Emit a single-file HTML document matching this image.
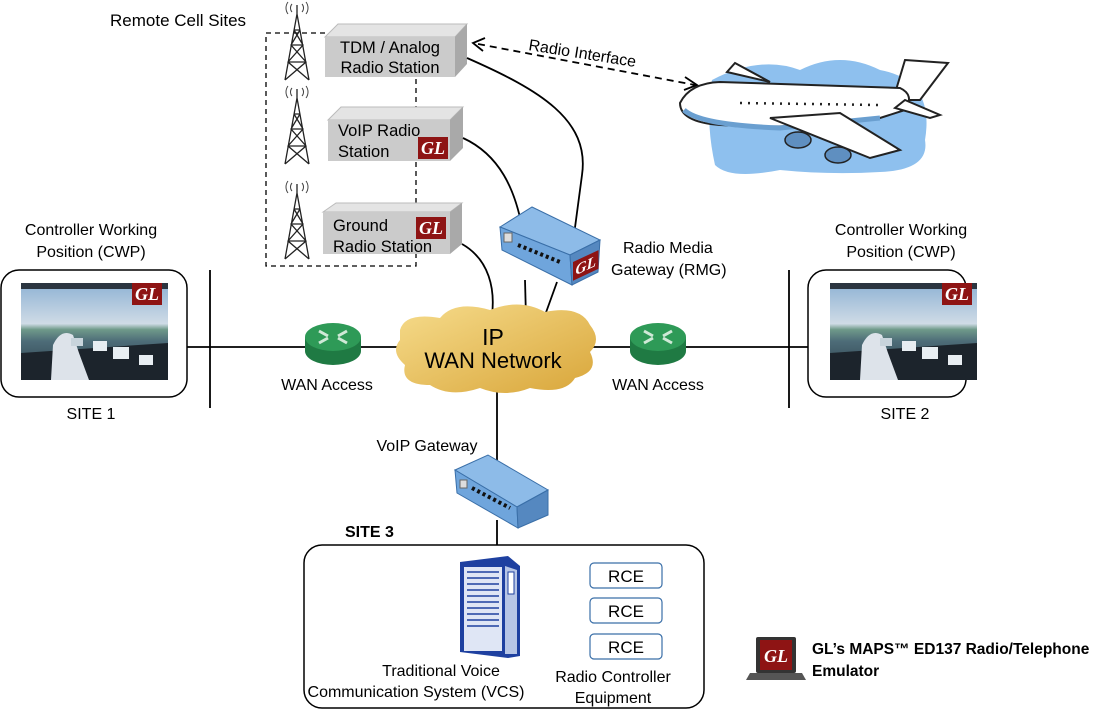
<!DOCTYPE html>
<html><head><meta charset="utf-8"><style>
html,body{margin:0;padding:0;background:#fff;}
svg{display:block;font-family:"Liberation Sans",sans-serif;}
</style></head><body>
<svg width="1104" height="724" viewBox="0 0 1104 724" xmlns="http://www.w3.org/2000/svg">
<defs>
<linearGradient id="cl" x1="0" y1="0" x2="1" y2="1"><stop offset="0" stop-color="#f6dc8c"/><stop offset="1" stop-color="#d9a63a"/></linearGradient>
<linearGradient id="sky" x1="0" y1="0" x2="0" y2="1"><stop offset="0" stop-color="#8fb2d4"/><stop offset="0.42" stop-color="#cfdbe6"/><stop offset="0.48" stop-color="#6f9a8a"/><stop offset="0.6" stop-color="#4d6c78"/><stop offset="1" stop-color="#2a3b46"/></linearGradient>
<g id="tower">
 <path d="M0 -66 L-12 0 M0 -66 L12 0 M-3 -50 L3 -50 M-6 -35 L6 -35 M-9 -18 L9 -18 M-3 -50 L6 -35 L-9 -18 L12 0 M3 -50 L-6 -35 L9 -18 L-12 0 M0 -75 L0 -66" stroke="#222" stroke-width="1.3" fill="none"/>
 <path d="M-5 -76 a6 6 0 0 0 0 8 M5 -76 a6 6 0 0 1 0 8 M-9 -78 a10 10 0 0 0 0 12 M9 -78 a10 10 0 0 1 0 12" stroke="#444" fill="none" stroke-width="1"/>
</g>
<g id="gl"><rect width="30" height="22" fill="#8e1414"/><text x="15" y="17" fill="#fff" font-family="Liberation Serif,serif" font-style="italic" font-weight="bold" font-size="18" text-anchor="middle">GL</text></g>
<g id="router">
 <ellipse cx="0" cy="8" rx="28" ry="14" fill="#1f7a43"/>
 <rect x="-28" y="-6" width="56" height="14" fill="#1f7a43"/>
 <ellipse cx="0" cy="-6" rx="28" ry="14" fill="#2e9a57"/>
 <path d="M-14 -12 L-5 -7 M14 -12 L5 -7 M-14 0 L-5 -5 M14 0 L5 -5" stroke="#cfe9d7" stroke-width="3"/>
</g>
<g id="photo">
 <rect x="0" y="0" width="147" height="97" fill="url(#sky)"/>
 <rect x="0" y="0" width="147" height="6" fill="#2b3540"/>
 <path d="M0 70 L147 60 L147 97 L0 97Z" fill="#1c242c"/>
 <path d="M30 97 L32 62 Q40 45 52 52 L58 70 L68 97Z" fill="#dde3ea"/>
 <rect x="72" y="58" width="14" height="10" fill="#e8eef2"/><rect x="92" y="64" width="16" height="12" fill="#e8eef2"/><rect x="118" y="72" width="14" height="10" fill="#e8eef2"/><rect x="50" y="55" width="12" height="8" fill="#c8d4dc"/>
</g>
</defs>

<text x="110" y="26" font-size="17" fill="#000">Remote Cell Sites</text>

<path d="M325 33 L266 33 L266 266 L416 266 L416 253 M416 212 L416 160 M416 120 L416 77" fill="none" stroke="#000" stroke-width="1.3" stroke-dasharray="5,4"/>

<use href="#tower" x="297" y="80"/>
<use href="#tower" x="297" y="164"/>
<use href="#tower" x="297" y="259"/>

<polygon points="325,37 338,24 467,24 455,37" fill="#e4e4e4" stroke="#bbb"/>
<polygon points="455,37 467,24 467,64 455,77" fill="#a9a9a9"/>
<rect x="325" y="37" width="130" height="40" fill="#cbcbcb"/>
<text x="390" y="53" font-size="16.5" text-anchor="middle">TDM / Analog</text>
<text x="390" y="73" font-size="16.5" text-anchor="middle">Radio Station</text>
<polygon points="328,120 341,107 463,107 450,120" fill="#e4e4e4" stroke="#bbb"/>
<polygon points="450,120 463,107 463,148 450,161" fill="#a9a9a9"/>
<rect x="328" y="120" width="122" height="41" fill="#cbcbcb"/>
<text x="338" y="136" font-size="16.5">VoIP Radio</text>
<text x="338" y="157" font-size="16.5">Station</text>
<use href="#gl" x="418" y="137"/>
<polygon points="323,212 336,203 462,203 450,212" fill="#e4e4e4" stroke="#bbb"/>
<polygon points="450,212 462,203 462,244 450,254" fill="#a9a9a9"/>
<rect x="323" y="212" width="127" height="42" fill="#cbcbcb"/>
<text x="333" y="231" font-size="16.5">Ground</text>
<text x="333" y="252" font-size="16.5">Radio  Station</text>
<use href="#gl" x="416" y="217"/>

<g fill="none" stroke="#000" stroke-width="1.8">
 <path d="M467 58 C540 90 590 120 582 175 L572 250"/>
 <path d="M463 138 C500 155 515 190 522 227"/>
 <path d="M462 244 C490 260 495 290 492 315"/>
 <path d="M525 280 L526 318"/>
 <path d="M557 282 L544 318"/>
 <path d="M187 347 L305 347 M360 347 L400 347"/>
 <path d="M210 270 L210 408"/>
 <path d="M592 347 L630 347 M686 347 L808 347"/>
 <path d="M789 270 L789 408"/>
 <path d="M497 385 L497 460"/>
 <path d="M497 520 L497 547"/>
 <path d="M520 610 L620 610"/>
 <path d="M568 560 L568 662 M568 575 L590 575 M568 610 L590 610 M568 647 L590 647"/>
</g>
<path d="M478 44 L695 85" stroke="#000" stroke-width="1.8" stroke-dasharray="7,5" fill="none"/>
<path d="M485 38 L473 43 L483 51" stroke="#000" stroke-width="1.8" fill="none"/>
<path d="M685 77 L697 85 L684 90" stroke="#000" stroke-width="1.8" fill="none"/>
<text x="528" y="50" font-size="16" transform="rotate(9 528 50)">Radio Interface</text>

<!-- airplane -->
<path d="M712 80 Q760 55 800 70 Q840 50 880 70 Q935 80 925 140 Q930 170 880 172 Q830 175 780 170 Q730 180 715 165 Q705 120 712 80Z" fill="#8ec0ee"/>
<path d="M727 72 L735 63 L770 82 Z" fill="#fff" stroke="#222" stroke-width="2"/>
<path d="M905 60 L948 63 L920 100 L893 100 Z" fill="#fff" stroke="#222" stroke-width="2"/>
<path d="M680 103 Q690 83 720 82 L900 88 Q915 95 905 110 L880 118 Q800 130 720 125 Q680 122 680 103Z" fill="#fff" stroke="#222" stroke-width="2"/>
<path d="M684 110 Q700 125 780 128 L880 118" fill="none" stroke="#6a9fd0" stroke-width="5"/>
<path d="M905 100 L940 115 L930 118 L895 108 Z" fill="#fff" stroke="#222" stroke-width="2"/>
<ellipse cx="798" cy="140" rx="13" ry="8" fill="#5f8fc0" stroke="#222" stroke-width="1.5"/>
<ellipse cx="838" cy="155" rx="13" ry="8" fill="#5f8fc0" stroke="#222" stroke-width="1.5"/>
<path d="M770 118 L840 113 L900 150 L870 158 Z" fill="#fff" stroke="#222" stroke-width="2"/>
<path d="M740 103 L880 105" stroke="#222" stroke-width="2.5" stroke-dasharray="2,6"/>

<!-- RMG -->
<polygon points="500,227 532,207 600,240 570,255" fill="#8dbbe8" stroke="#3a6fa8"/>
<polygon points="500,227 570,255 572,285 502,250" fill="#6fa5dc" stroke="#3a6fa8"/>
<polygon points="570,255 600,240 598,272 572,285" fill="#5588c0" stroke="#3a6fa8"/>
<rect x="504" y="233" width="8" height="9" fill="#ddd" stroke="#666"/>
<path d="M518 245 L560 262" stroke="#111" stroke-width="4" stroke-dasharray="3,3"/>
<g transform="translate(573,262) skewY(-25)"><use href="#gl" x="0" y="0" transform="scale(0.85)"/></g>
<text x="623" y="253" font-size="16">Radio Media</text>
<text x="611" y="275" font-size="16">Gateway (RMG)</text>

<path d="M400 330 Q405 312 440 318 Q455 300 490 310 Q520 298 545 312 Q580 305 590 325 Q602 340 590 352 Q600 372 575 378 Q565 395 530 388 Q505 398 480 388 Q450 398 430 385 Q400 385 405 365 Q390 352 400 340 Z" fill="url(#cl)"/>
<text x="493" y="345" font-size="23" text-anchor="middle">IP</text>
<text x="493" y="368" font-size="22" text-anchor="middle">WAN Network</text>

<use href="#router" x="333" y="343"/>
<use href="#router" x="658" y="343"/>
<text x="327" y="390" font-size="16" text-anchor="middle">WAN Access</text>
<text x="658" y="390" font-size="16" text-anchor="middle">WAN Access</text>

<text x="91" y="235" font-size="16" text-anchor="middle">Controller Working</text>
<text x="91" y="257" font-size="16" text-anchor="middle">Position (CWP)</text>
<rect x="1" y="270" width="186" height="127" rx="18" fill="#fff" stroke="#000" stroke-width="1.5"/>
<use href="#photo" x="21" y="283"/>
<use href="#gl" x="132" y="283"/>
<text x="91" y="419" font-size="16" text-anchor="middle">SITE 1</text>

<text x="901" y="235" font-size="16" text-anchor="middle">Controller Working</text>
<text x="901" y="257" font-size="16" text-anchor="middle">Position (CWP)</text>
<rect x="808" y="270" width="158" height="127" rx="18" fill="#fff" stroke="#000" stroke-width="1.5"/>
<use href="#photo" x="830" y="283"/>
<use href="#gl" x="942" y="283"/>
<text x="905" y="419" font-size="16" text-anchor="middle">SITE 2</text>

<text x="427" y="451" font-size="16" text-anchor="middle">VoIP Gateway</text>
<polygon points="455,470 488,455 548,490 517,507" fill="#8dbbe8" stroke="#3a6fa8"/>
<polygon points="455,470 517,507 518,528 457,493" fill="#6fa5dc" stroke="#3a6fa8"/>
<polygon points="517,507 548,490 548,515 518,528" fill="#5588c0" stroke="#3a6fa8"/>
<rect x="460" y="480" width="7" height="8" fill="#ddd" stroke="#666"/>
<path d="M472 488 L510 508" stroke="#111" stroke-width="4" stroke-dasharray="3,3"/>

<text x="345" y="537" font-size="16" font-weight="bold">SITE 3</text>
<rect x="304" y="545" width="400" height="163" rx="18" fill="#fff" stroke="#000" stroke-width="1.5"/>
<polygon points="460,562 508,556 520,566 520,656 508,658 460,652" fill="#1e40a0"/>
<rect x="464" y="567" width="38" height="84" fill="#dfe6f5"/>
<polygon points="505,566 517,570 517,654 505,654" fill="#b7c6e6"/>
<rect x="508" y="572" width="6" height="22" fill="#fff" stroke="#1e40a0"/>
<path d="M467 572 L499 572 M467 578 L499 578 M467 584 L499 584 M467 590 L499 590 M467 596 L499 596 M467 602 L499 602 M467 608 L499 608 M467 614 L499 614 M467 620 L499 620 M467 626 L499 626" stroke="#1e40a0" stroke-width="1.5"/>
<rect x="590" y="563" width="72" height="25" rx="4" fill="#fff" stroke="#3a6fa8" stroke-width="1.2"/>
<rect x="590" y="598" width="72" height="25" rx="4" fill="#fff" stroke="#3a6fa8" stroke-width="1.2"/>
<rect x="590" y="634" width="72" height="25" rx="4" fill="#fff" stroke="#3a6fa8" stroke-width="1.2"/>
<text x="626" y="582" font-size="17" text-anchor="middle">RCE</text>
<text x="626" y="617" font-size="17" text-anchor="middle">RCE</text>
<text x="626" y="653" font-size="17" text-anchor="middle">RCE</text>
<text x="441" y="676" font-size="16" text-anchor="middle">Traditional  Voice</text>
<text x="416" y="697" font-size="16" text-anchor="middle">Communication System (VCS)</text>
<text x="613" y="682" font-size="16" text-anchor="middle">Radio Controller</text>
<text x="613" y="703" font-size="16" text-anchor="middle">Equipment</text>

<rect x="756" y="637" width="40" height="36" fill="#333" rx="2"/>
<rect x="760" y="640" width="32" height="30" fill="#8e1414"/>
<text x="776" y="662" fill="#fff" font-family="Liberation Serif,serif" font-style="italic" font-weight="bold" font-size="18" text-anchor="middle">GL</text>
<polygon points="750,673 802,673 806,680 746,680" fill="#555"/>
<text x="812" y="654" font-size="15.5" font-weight="bold">GL’s MAPS™ ED137 Radio/Telephone</text>
<text x="812" y="676" font-size="15.5" font-weight="bold">Emulator</text>
</svg>
</body></html>
